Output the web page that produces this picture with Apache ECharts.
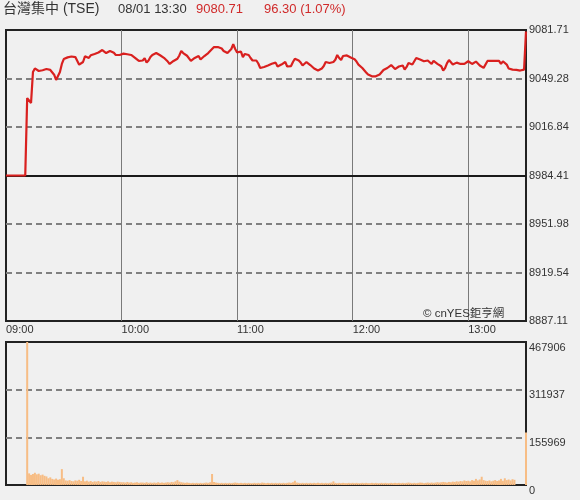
<!DOCTYPE html>
<html>
<head>
<meta charset="utf-8">
<script src="https://cdn.jsdelivr.net/npm/echarts@6/dist/echarts.min.js"></script>
<style>
html,body{margin:0;padding:0;background:#f0f0f0;}
#c{width:580px;height:500px;}
</style>
</head>
<body>
<div id="c"></div>
<script>
const FONT = '"Liberation Sans", Arial, "Noto Sans CJK TC", sans-serif';
const titleName = '台灣集中 (TSE)';
const titleTime = '08/01 13:30';
const titlePrice = '9080.71';
const titleChange = '96.30 (1.07%)';
const watermark = '© cnYES鉅亨網';

const prevClose = 8984.41;
const priceMin = 8887.11;
const priceMax = 9081.71;
const volMax = 467906;

const timeLabels = ['09:00', '10:00', '11:00', '12:00', '13:00'];
const priceTicks = ['8887.11', '8919.54', '8951.98', '8984.41', '9016.84', '9049.28', '9081.71'];
const volTicks = ['0', '155969', '311937', '467906'];

// one value per minute from 09:00 (index 0) to 13:30 (index 270)
const prices = [
  8984.41, 8984.41, 8984.41, 8984.41, 8984.41, 8984.41, 8984.41, 8984.41, 8984.41, 8984.41, 8984.41,
  9036.2, 9034.9, 9032.9, 9053.6, 9056.0, 9056.0, 9054.3, 9054.6, 9054.8, 9055.2,
  9055.6, 9055.6, 9055.0, 9054.1, 9051.8, 9048.3, 9047.6, 9053.6, 9059.0, 9062.3,
  9063.0, 9063.4, 9063.9, 9064.0, 9063.4, 9063.6, 9063.0, 9058.5, 9057.6, 9060.3,
  9064.1, 9065.0, 9063.0, 9064.8, 9065.3, 9065.7, 9066.2, 9066.7, 9067.8, 9068.3,
  9067.7, 9066.3, 9067.0, 9067.7, 9067.8, 9066.5, 9065.0, 9064.1, 9065.0, 9065.7,
  9065.9, 9064.9, 9065.5, 9065.3, 9065.0, 9064.0, 9063.1, 9062.6, 9061.0, 9059.9,
  9061.3, 9062.9, 9059.9, 9061.3, 9063.6, 9065.0, 9065.7, 9066.3, 9065.7, 9064.8,
  9064.0, 9063.1, 9062.3, 9060.6, 9059.0, 9060.3, 9061.0, 9061.6, 9062.5, 9064.7,
  9067.7, 9066.3, 9065.0, 9064.5, 9063.3, 9061.1, 9061.6, 9063.0, 9064.0, 9064.3,
  9062.0, 9063.3, 9064.3, 9064.8, 9066.3, 9067.7, 9069.0, 9070.3, 9071.3, 9070.3,
  9070.3, 9069.3, 9067.7, 9067.8, 9066.3, 9066.3, 9069.0, 9072.3, 9069.0, 9066.7,
  9066.0, 9067.3, 9063.6, 9065.7, 9066.0, 9065.0, 9063.0, 9061.3, 9062.0, 9061.3,
  9059.3, 9056.3, 9056.6, 9057.0, 9056.6, 9058.0, 9059.3, 9059.1, 9059.0, 9059.9,
  9057.3, 9057.6, 9058.6, 9057.6, 9060.3, 9057.3, 9056.3, 9057.6, 9060.3, 9062.5,
  9062.6, 9061.3, 9059.9, 9058.0, 9059.0, 9060.3, 9059.0, 9058.3, 9057.3, 9056.0,
  9055.2, 9054.6, 9054.8, 9056.0, 9057.6, 9060.3, 9059.0, 9059.6, 9060.6, 9060.3,
  9061.8, 9065.0, 9063.0, 9061.6, 9064.3, 9065.1, 9064.7, 9064.1, 9063.3, 9063.0,
  9062.1, 9060.6, 9058.6, 9057.6, 9056.3, 9055.0, 9053.3, 9051.9, 9051.3, 9050.7,
  9050.7, 9050.7, 9051.3, 9051.9, 9052.9, 9055.0, 9054.1, 9056.3, 9055.3, 9058.3,
  9057.6, 9055.6, 9055.6, 9057.3, 9056.4, 9058.0, 9055.3, 9057.0, 9059.6, 9059.9,
  9058.6, 9059.9, 9063.0, 9062.1, 9062.0, 9062.3, 9060.8, 9061.6, 9061.3, 9060.3,
  9059.0, 9061.0, 9060.1, 9059.1, 9058.3, 9057.5, 9054.6, 9056.3, 9059.6, 9061.6,
  9060.6, 9058.6, 9059.3, 9059.9, 9060.8, 9059.0, 9059.6, 9059.0, 9059.0, 9060.8,
  9059.9, 9059.0, 9059.3, 9060.6, 9059.3, 9058.0, 9057.0, 9056.4, 9057.5, 9061.0,
  9061.3, 9061.1, 9061.8, 9061.0, 9061.3, 9061.0, 9059.0, 9060.8, 9061.6, 9058.6,
  9056.0, 9055.2, 9055.2, 9054.6, 9055.0, 9055.0, 9054.6, 9055.0, 9055.2, 9080.71
];

const volumes = [
  0, 0, 0, 0, 0, 0, 0, 0, 0, 0, 0,
  467906, 38000, 33000, 36000, 40000, 35000, 37000, 32000, 34000, 30000,
  28000, 22000, 25000, 20000, 18000, 21000, 17000, 19000, 52000, 22000,
  15000, 14000, 16000, 13000, 12000, 15000, 14000, 17000, 13000, 27000,
  12000, 14000, 11000, 13000, 10000, 12000, 11000, 13000, 10000, 12000,
  11000, 10000, 12000, 9000, 11000, 10000, 9000, 11000, 10000, 9000,
  9000, 8000, 10000, 8000, 9000, 7000, 8000, 9000, 7000, 8000,
  8000, 7000, 9000, 7000, 8000, 7000, 8000, 7000, 9000, 7000,
  8000, 7000, 8000, 9000, 8000, 10000, 9000, 12000, 16000, 11000,
  9000, 8000, 7000, 8000, 7000, 6000, 7000, 6000, 7000, 6000,
  7000, 6000, 7000, 8000, 7000, 9000, 36000, 10000, 8000, 7000,
  6000, 7000, 6000, 7000, 6000, 7000, 6000, 7000, 8000, 7000,
  6000, 7000, 6000, 7000, 6000, 7000, 6000, 6000, 7000, 6000,
  7000, 6000, 8000, 7000, 6000, 7000, 6000, 7000, 6000, 7000,
  6000, 7000, 6000, 7000, 6000, 7000, 8000, 7000, 9000, 14000,
  8000, 7000, 6000, 7000, 6000, 7000, 6000, 7000, 6000, 7000,
  6000, 7000, 6000, 7000, 6000, 7000, 6000, 7000, 8000, 12000,
  7000, 6000, 7000, 6000, 7000, 6000, 6000, 7000, 6000, 7000,
  6000, 7000, 6000, 6000, 7000, 6000, 7000, 6000, 6000, 7000,
  6000, 7000, 6000, 6000, 7000, 6000, 7000, 6000, 6000, 7000,
  6000, 7000, 6000, 7000, 6000, 7000, 6000, 7000, 8000, 7000,
  6000, 7000, 6000, 7000, 8000, 7000, 6000, 7000, 8000, 7000,
  8000, 7000, 8000, 9000, 8000, 9000, 10000, 9000, 8000, 10000,
  9000, 11000, 10000, 12000, 11000, 13000, 12000, 15000, 13000, 14000,
  12000, 16000, 14000, 20000, 15000, 18000, 27000, 16000, 14000, 13000,
  15000, 12000, 14000, 16000, 13000, 15000, 20000, 14000, 22000, 16000,
  18000, 15000, 19000, 17000, 0, 0, 0, 0, 0, 172000
];

const priceData = prices.map((v, i) => [i, v]);
const volData = volumes.map((v, i) => [i, v]);

const chart = echarts.init(document.getElementById('c'), null, {renderer: 'canvas'});

const dashed = {show: true, showMinLine: false, showMaxLine: false,
  lineStyle: {color: '#808080', width: 2, type: [6, 4]}};
const labelCommon = {color: '#333', fontSize: 11, fontFamily: FONT};

chart.setOption({
  animation: false,
  backgroundColor: '#f0f0f0',
  textStyle: {fontFamily: FONT},
  grid: [
    {left: 6, right: 54, top: 30, height: 291, show: true, borderColor: '#222', borderWidth: 2, backgroundColor: 'transparent'},
    {left: 6, right: 54, top: 342, height: 143, show: true, borderColor: '#222', borderWidth: 2, backgroundColor: 'transparent'}
  ],
  xAxis: [
    {type: 'value', gridIndex: 0, min: 0, max: 270, interval: 60,
      axisLine: {show: false}, axisTick: {show: false},
      axisLabel: Object.assign({}, labelCommon, {margin: 3, align: 'left', verticalAlign: 'top',
        formatter: v => timeLabels[v / 60] || ''}),
      splitLine: {show: true, showMinLine: false, showMaxLine: false, lineStyle: {color: '#7a7a7a', width: 1}}},
    {type: 'value', gridIndex: 1, min: 0, max: 270, interval: 60,
      axisLine: {show: false}, axisTick: {show: false}, axisLabel: {show: false}, splitLine: {show: false}}
  ],
  yAxis: [
    {type: 'value', gridIndex: 0, min: priceMin, max: priceMax, show: false},
    {type: 'value', gridIndex: 0, position: 'right', min: 0, max: priceTicks.length - 1, interval: 1,
      axisLine: {show: false}, axisTick: {show: false},
      axisLabel: Object.assign({}, labelCommon, {margin: 3, align: 'left', verticalAlign: 'middle',
        padding: [0, 0, 6, 0], formatter: v => priceTicks[v]}),
      splitLine: dashed},
    {type: 'value', gridIndex: 1, min: 0, max: volMax, show: false},
    {type: 'value', gridIndex: 1, position: 'right', min: 0, max: volTicks.length - 1, interval: 1,
      axisLine: {show: false}, axisTick: {show: false},
      axisLabel: Object.assign({}, labelCommon, {margin: 3, align: 'left', verticalAlign: 'top',
        formatter: v => volTicks[v]}),
      splitLine: dashed}
  ],
  series: [
    {type: 'line', xAxisIndex: 0, yAxisIndex: 0, data: priceData, symbol: 'none',
      lineStyle: {color: '#d9201f', width: 2.2}, z: 5,
      markLine: {silent: true, symbol: 'none', label: {show: false},
        lineStyle: {color: '#1a1a1a', width: 2, type: 'solid'},
        data: [{yAxis: prevClose}]}},
    {type: 'bar', xAxisIndex: 1, yAxisIndex: 2, data: volData, barWidth: 2,
      itemStyle: {color: '#f7bd85'}, z: 5}
  ],
  graphic: [
    {type: 'text', left: 3, top: 2, style: {text: titleName, fill: '#333', font: '14px ' + FONT}},
    {type: 'text', left: 118, top: 3, style: {text: titleTime, fill: '#333', font: '13px ' + FONT}},
    {type: 'text', left: 196, top: 3, style: {text: titlePrice, fill: '#d02a2a', font: '13px ' + FONT}},
    {type: 'text', left: 264, top: 3, style: {text: titleChange, fill: '#d02a2a', font: '13px ' + FONT}},
    {type: 'text', left: 423, top: 308, style: {text: watermark, fill: '#333', font: '11.5px ' + FONT}, z: 10}
  ]
});
</script>
</body>
</html>
